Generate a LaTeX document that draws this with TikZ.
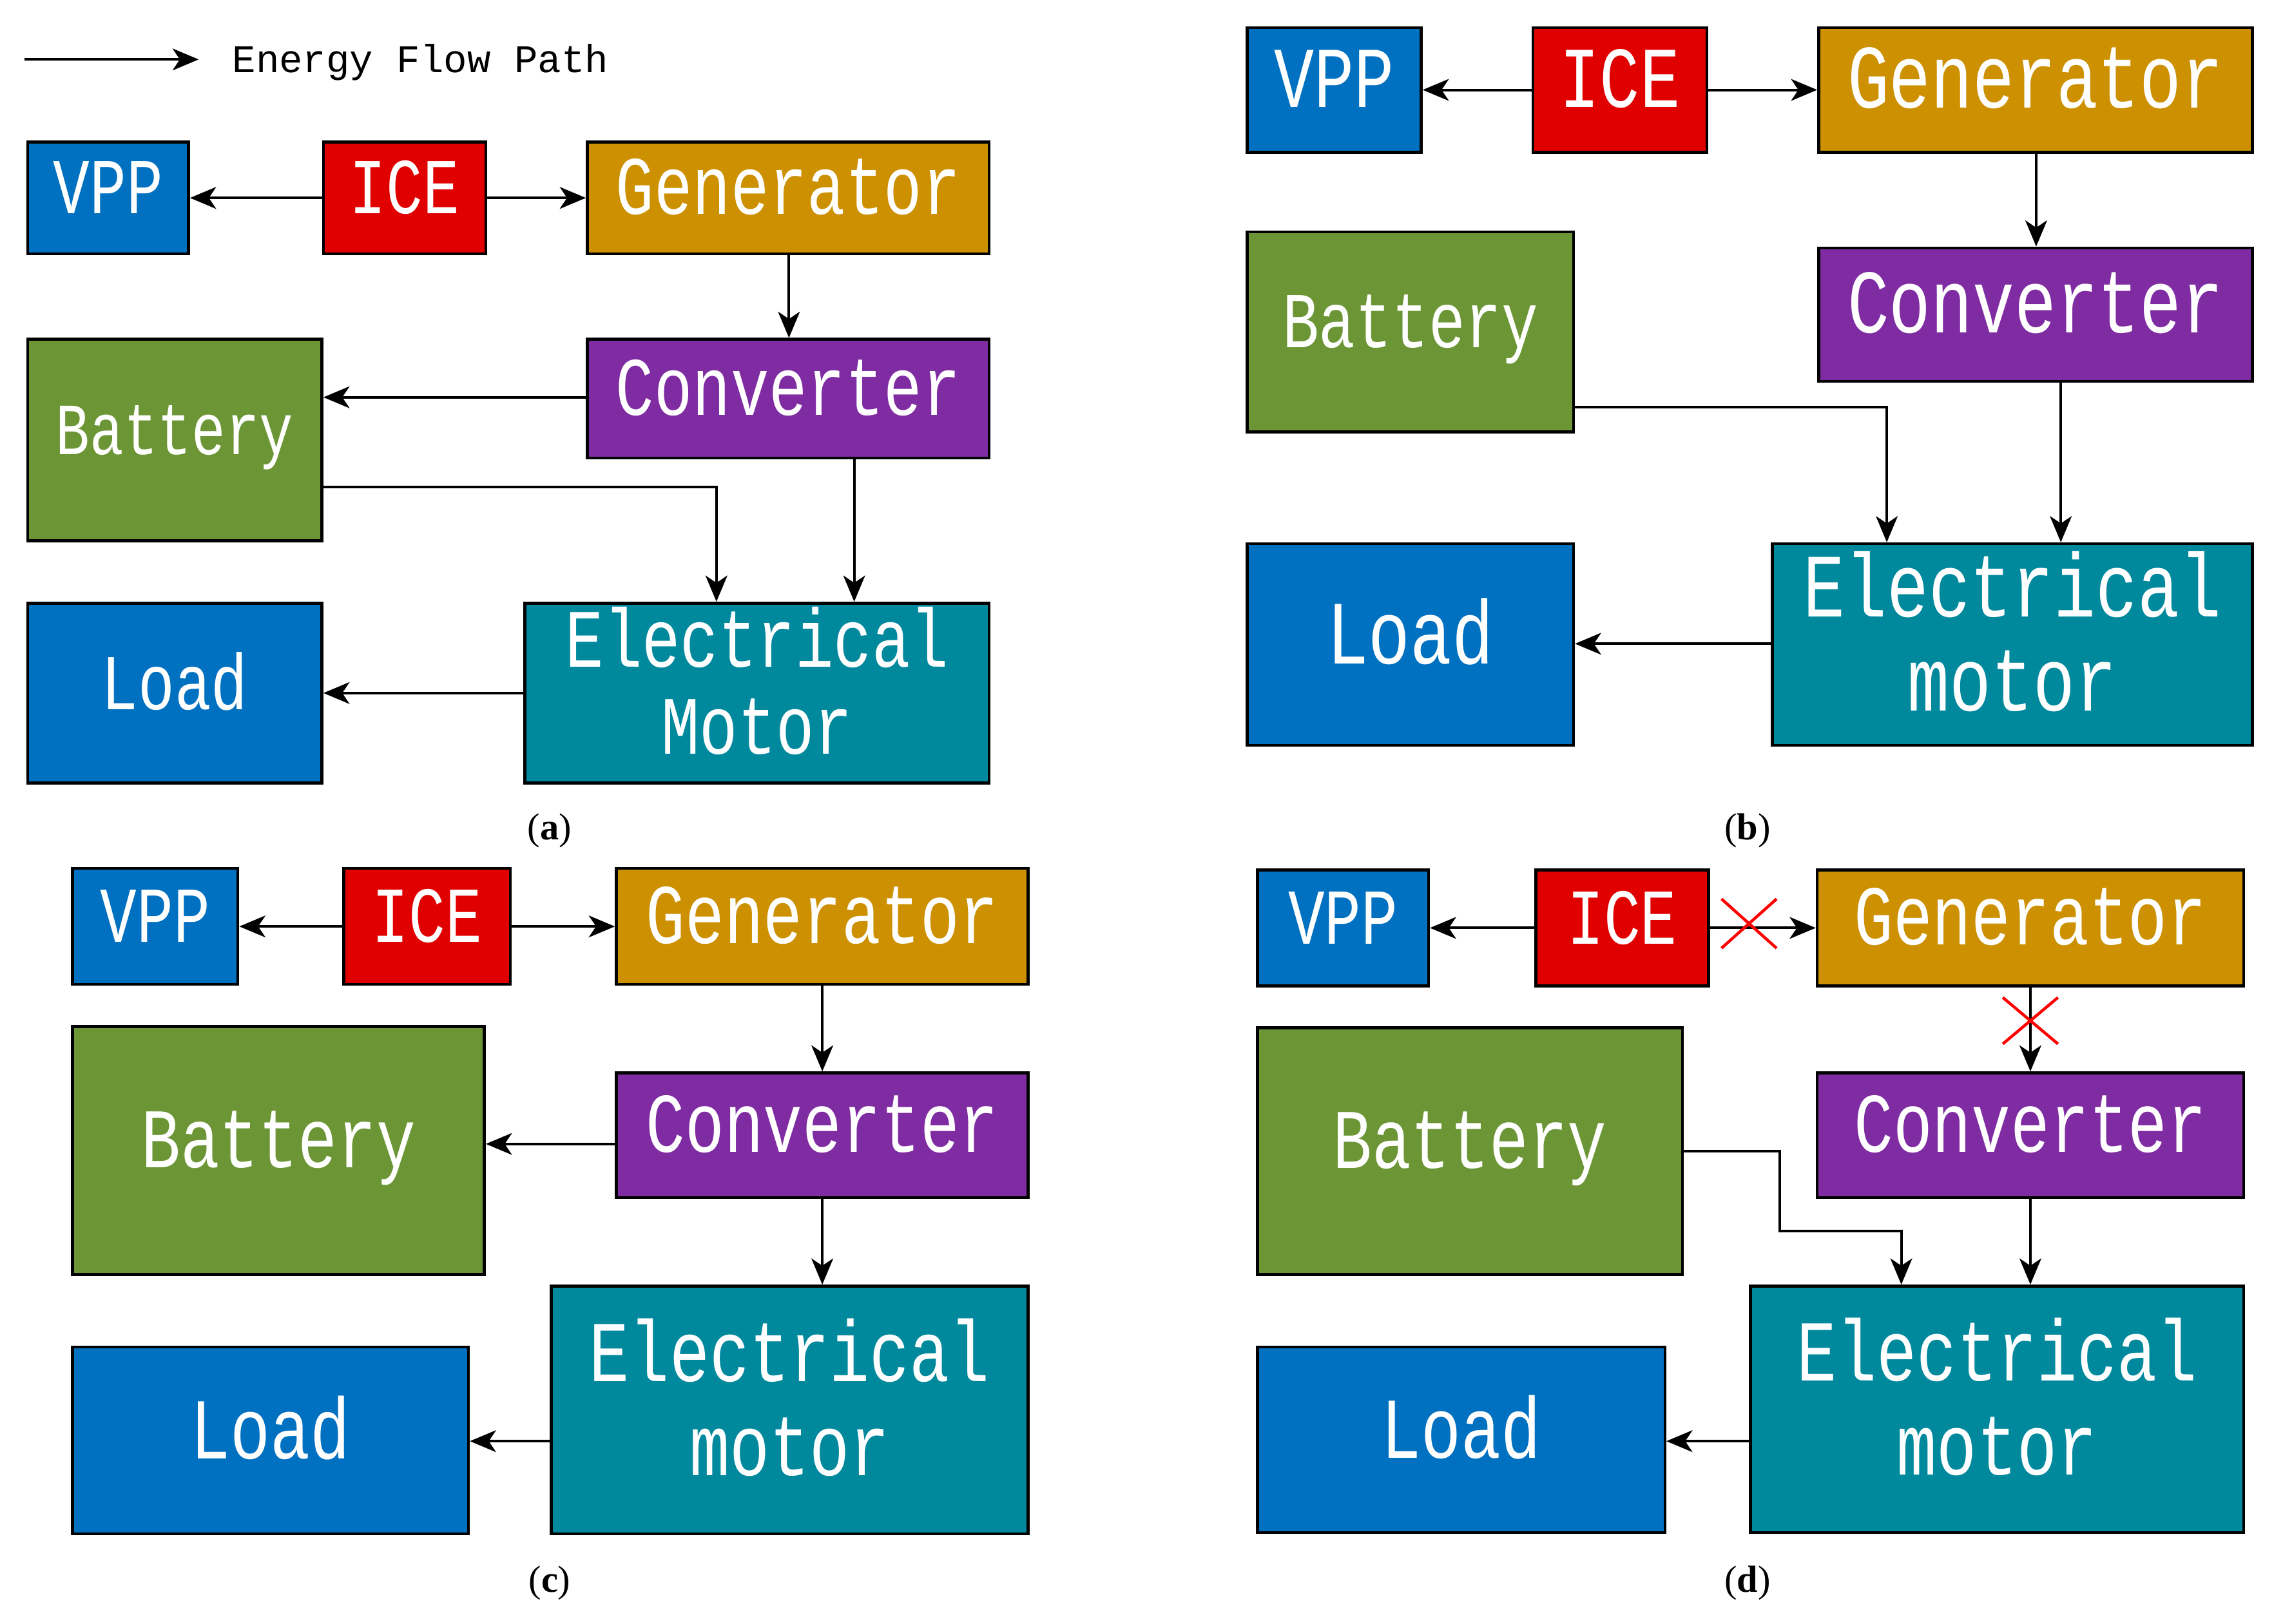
\documentclass[tikz,border=0pt]{standalone}
\usepackage{fontspec}
\setmainfont{Liberation Serif}
\newfontfamily\boxfont{Liberation Mono}
\usetikzlibrary{arrows.meta}
\definecolor{cvpp}{HTML}{0070C0}
\definecolor{cice}{HTML}{E00000}
\definecolor{cgen}{HTML}{CC9000}
\definecolor{cbat}{HTML}{6C9636}
\definecolor{cconv}{HTML}{7F2CA3}
\definecolor{cem}{HTML}{00889C}
\newcommand\T[2]{{\fontsize{#1}{#1}\selectfont\boxfont\scalebox{1}[1.3]{\begin{tabular}{@{}c@{}}#2\end{tabular}}}}
\newcommand\bx[8]{\node[box,fill=#6,minimum width={(#4-#2)*1pt},minimum height={(#5-#3)*1pt}] (#1) at ({(#2+#4)/2},{(#3+#5)/2}) {\T{#7}{#8}};}
\tikzset{
 box/.style={draw=black,line width=2pt,inner sep=0pt,text=white,rectangle},
 arr/.style={line width=1.8pt,-{Stealth[length=18pt,width=15pt,inset=5pt]}},
 lab/.style={font=\fontsize{26}{26}\selectfont},
 cross/.style={draw=red,line width=2pt}
}
\begin{document}
\begin{tikzpicture}[x=1pt,y=-1pt]
\useasboundingbox (0,0) rectangle (1568,1120);
% legend
\coordinate (l1) at (17,41); \coordinate (l2) at (137,41);
\draw[arr] (l1) -- (l2);
\node[anchor=west,inner sep=0pt] (leg) at (160,43) {\fontsize{27}{27}\selectfont\boxfont Energy Flow Path};
% panel a
\bx{aV}{19}{98}{130}{175}{cvpp}{42}{VPP}
\bx{aI}{223}{98}{335}{175}{cice}{42}{ICE}
\bx{aG}{405}{98}{682}{175}{cgen}{44}{Generator}
\bx{aB}{19}{234}{222}{373}{cbat}{39}{Battery}
\bx{aC}{405}{234}{682}{316}{cconv}{44}{Converter}
\bx{aL}{19}{416}{222}{540}{cvpp}{42}{Load}
\bx{aE}{362}{416}{682}{540}{cem}{44}{Electrical\\[2pt]Motor}
\draw[arr] (aI.west) -- (aV.east);
\draw[arr] (aI.east) -- (aG.west);
\draw[arr] (aG.south -| 544,0) -- (aC.north -| 544,0);
\draw[arr] (aC.west |- 0,274) -- (aB.east |- 0,274);
\draw[arr] (aB.east |- 0,336) -| (aE.north -| 494,0);
\draw[arr] (aC.south -| 589,0) -- (aE.north -| 589,0);
\draw[arr] (aE.west |- 0,478) -- (aL.east |- 0,478);
\node[lab] (la) at (379,573) {(\textbf{a})};
% panel b
\bx{bV}{860}{19}{980}{105}{cvpp}{46}{VPP}
\bx{bI}{1057}{19}{1177}{105}{cice}{46}{ICE}
\bx{bG}{1254}{19}{1553}{105}{cgen}{48}{Generator}
\bx{bB}{860}{160}{1085}{298}{cbat}{42}{Battery}
\bx{bC}{1254}{171}{1553}{263}{cconv}{48}{Converter}
\bx{bL}{860}{375}{1085}{514}{cvpp}{48}{Load}
\bx{bE}{1222}{375}{1553}{514}{cem}{48}{Electrical\\[2pt]motor}
\draw[arr] (bI.west) -- (bV.east);
\draw[arr] (bI.east) -- (bG.west);
\draw[arr] (bG.south -| 1404,0) -- (bC.north -| 1404,0);
\draw[arr] (bB.east |- 0,281) -| (bE.north -| 1301,0);
\draw[arr] (bC.south -| 1421,0) -- (bE.north -| 1421,0);
\draw[arr] (bE.west |- 0,444) -- (bL.east |- 0,444);
\node[lab] (lb) at (1205,573) {(\textbf{b})};
% panel c
\bx{cV}{50}{599}{164}{679}{cvpp}{42}{VPP}
\bx{cI}{237}{599}{352}{679}{cice}{42}{ICE}
\bx{cG}{425}{599}{709}{679}{cgen}{45}{Generator}
\bx{cB}{50}{708}{334}{879}{cbat}{45}{Battery}
\bx{cC}{425}{740}{709}{826}{cconv}{45}{Converter}
\bx{cL}{50}{929}{323}{1058}{cvpp}{46}{Load}
\bx{cE}{380}{887}{709}{1058}{cem}{46}{Electrical\\[4pt]motor}
\draw[arr] (cI.west) -- (cV.east);
\draw[arr] (cI.east) -- (cG.west);
\draw[arr] (cG.south -| 567,0) -- (cC.north -| 567,0);
\draw[arr] (cC.west |- 0,789) -- (cB.east |- 0,789);
\draw[arr] (cC.south -| 567,0) -- (cE.north -| 567,0);
\draw[arr] (cE.west |- 0,994) -- (cL.east |- 0,994);
\node[lab] (lc) at (379,1092) {(\textbf{c})};
% panel d
\bx{dV}{867}{600}{985}{680}{cvpp}{42}{VPP}
\bx{dI}{1059}{600}{1178}{680}{cice}{42}{ICE}
\bx{dG}{1253}{600}{1547}{680}{cgen}{45}{Generator}
\bx{dB}{867}{709}{1160}{879}{cbat}{45}{Battery}
\bx{dC}{1253}{740}{1547}{826}{cconv}{45}{Converter}
\bx{dL}{867}{929}{1148}{1057}{cvpp}{46}{Load}
\bx{dE}{1207}{887}{1547}{1057}{cem}{46}{Electrical\\[4pt]motor}
\draw[arr] (dI.west) -- (dV.east);
\draw[arr] (dI.east) -- (dG.west);
\draw[arr] (dG.south -| 1400,0) -- (dC.north -| 1400,0);
\draw[arr] (dB.east |- 0,794) -- (1227,794) -- (1227,849) -| (dE.north -| 1311,0);
\draw[arr] (dC.south -| 1400,0) -- (dE.north -| 1400,0);
\draw[arr] (dE.west |- 0,994) -- (dL.east |- 0,994);
\draw[cross] (1187,620) -- (1225,654) (1187,654) -- (1225,620);
\draw[cross] (1381,688) -- (1419,720) (1381,720) -- (1419,688);
\node[lab] (ld) at (1205,1092) {(\textbf{d})};
\end{tikzpicture}
\end{document}
